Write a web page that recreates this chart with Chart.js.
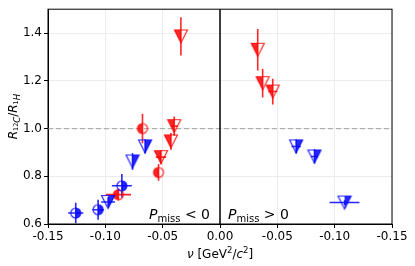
<!DOCTYPE html>
<html>

<head>
    <meta charset="utf-8">
    <title>R12C / R1H</title>
    <style>
        body { margin: 0; background: #fff; }
    </style>
</head>

<body>
    <canvas id="myChart" width="415" height="266"></canvas>

    <script src="https://cdn.jsdelivr.net/npm/chart.js@4.4.1/dist/chart.umd.min.js"></script>
    <script type="text/javascript">
        // valores (lado derecho: P_miss > 0, eje en espejo)
        var redCircX = [-0.0886, -0.0676, -0.0536];
        var redCircY = [0.723, 1.000, 0.816];
        var redCircXe = [0.011, 0, 0];
        var redCircYe = [0.025, 0.062, 0.035];

        var redTriX = [-0.0515, -0.0428, -0.0399, -0.0341, 0.0329, 0.0372, 0.0460];
        var redTriY = [0.880, 0.946, 1.010, 1.386, 1.330, 1.190, 1.155];
        var redTriXe = [0.0045, 0, 0.003, 0, 0, 0, 0.004];
        var redTriYe = [0.030, 0.035, 0.040, 0.080, 0.087, 0.060, 0.054];

        var blueCircX = [-0.1258, -0.1063, -0.0856];
        var blueCircY = [0.646, 0.660, 0.760];
        var blueCircXe = [0.0066, 0.005, 0.0087];
        var blueCircYe = [0.043, 0.042, 0.049];

        var blueTriX = [-0.0976, -0.0763, -0.0653, 0.0664, 0.0824, 0.1086];
        var blueTriY = [0.692, 0.862, 0.925, 0.925, 0.883, 0.690];
        var blueTriXe = [0.006, 0, 0, 0.004, 0.003, 0.013];
        var blueTriYe = [0.020, 0.035, 0.030, 0.030, 0.030, 0.010];

        var xTicks = [-0.15, -0.10, -0.05, 0, 0.05, 0.10, 0.15];
        var yTicks = [0.6, 0.8, 1.0, 1.2, 1.4];

        var RED = 'rgba(255,0,0,0.85)';
        var BLUE = 'rgba(0,0,255,0.85)';
        var FONT = '"DejaVu Sans", sans-serif';

        function makeMarker(shape, color, side) {
            var c = document.createElement('canvas');
            c.width = 16; c.height = 16;
            var g = c.getContext('2d');
            g.beginPath();
            if (shape == 'circle') {
                g.arc(8, 8, 5, 0, Math.PI * 2);
            } else {
                g.moveTo(1.5, 1.5); g.lineTo(14.5, 1.5); g.lineTo(8, 14.5); g.closePath();
            }
            g.save();
            g.clip();
            g.fillStyle = color;
            if (side == 'left') g.fillRect(0, 0, 8, 16);
            else g.fillRect(8, 0, 8, 16);
            g.restore();
            g.lineWidth = 1.2;
            g.strokeStyle = color;
            g.stroke();
            return c;
        }

        function pts(xs, ys, xe, ye) {
            var out = [];
            for (var i = 0; i < xs.length; i++) out.push({ x: xs[i], y: ys[i], xe: xe[i], ye: ye[i] });
            return out;
        }

        function ds(data, color, shape, side) {
            return {
                data: data,
                pointStyle: makeMarker(shape, color, side),
                pointRadius: 6,
                errColor: color,
                showLine: false
            };
        }

        // texto con partes (cursiva, subindices...)
        function richWidth(ctx, parts) {
            var w = 0;
            parts.forEach(function(p) {
                ctx.font = (p.it ? 'italic ' : '') + p.s + 'px ' + FONT;
                w += ctx.measureText(p.t).width;
            });
            return w;
        }
        function drawRich(ctx, parts, x, y) {
            parts.forEach(function(p) {
                ctx.font = (p.it ? 'italic ' : '') + p.s + 'px ' + FONT;
                ctx.fillText(p.t, x, y + (p.dy || 0));
                x += ctx.measureText(p.t).width;
            });
        }

        var yLabel = [
            { t: 'R', s: 12, it: true }, { t: '12', s: 6.5, dy: 1 }, { t: 'C', s: 8.5, it: true, dy: 3 },
            { t: '/', s: 12 },
            { t: 'R', s: 12, it: true }, { t: '1', s: 6.5, dy: 1 }, { t: 'H', s: 8.5, it: true, dy: 3 }
        ];
        var xLabel = [
            { t: 'ν', s: 12, it: true }, { t: ' [GeV', s: 12 }, { t: '2', s: 8.5, dy: -5 },
            { t: '/', s: 12 }, { t: 'c', s: 12, it: true }, { t: '2', s: 8.5, dy: -5 }, { t: ']', s: 12 }
        ];
        var pNeg = [{ t: 'P', s: 14, it: true }, { t: 'miss', s: 10, dy: 3 }, { t: ' < 0', s: 14 }];
        var pPos = [{ t: 'P', s: 14, it: true }, { t: 'miss', s: 10, dy: 3 }, { t: ' > 0', s: 14 }];

        var extras = {
            id: 'extras',
            beforeDatasetsDraw: function(chart) {
                var ctx = chart.ctx, a = chart.chartArea;
                var xs = chart.scales.x, ys = chart.scales.y;
                ctx.save();
                // linea discontinua en 1.0
                ctx.strokeStyle = '#b0b0b0';
                ctx.lineWidth = 1.2;
                ctx.setLineDash([5, 3]);
                ctx.beginPath();
                ctx.moveTo(a.left, ys.getPixelForValue(1.0));
                ctx.lineTo(a.right, ys.getPixelForValue(1.0));
                ctx.stroke();
                ctx.setLineDash([]);
                // linea vertical en 0
                ctx.strokeStyle = '#000';
                ctx.lineWidth = 1.5;
                ctx.beginPath();
                ctx.moveTo(xs.getPixelForValue(0), a.top);
                ctx.lineTo(xs.getPixelForValue(0), a.bottom);
                ctx.stroke();
                // barras de error
                ctx.lineWidth = 1.6;
                chart.data.datasets.forEach(function(d) {
                    ctx.strokeStyle = d.errColor;
                    d.data.forEach(function(p) {
                        var px = xs.getPixelForValue(p.x), py = ys.getPixelForValue(p.y);
                        ctx.beginPath();
                        if (p.ye > 0) {
                            ctx.moveTo(px, ys.getPixelForValue(p.y - p.ye));
                            ctx.lineTo(px, ys.getPixelForValue(p.y + p.ye));
                        }
                        if (p.xe > 0) {
                            ctx.moveTo(xs.getPixelForValue(p.x - p.xe), py);
                            ctx.lineTo(xs.getPixelForValue(p.x + p.xe), py);
                        }
                        ctx.stroke();
                    });
                });
                ctx.restore();
            },
            afterDraw: function(chart) {
                var ctx = chart.ctx, a = chart.chartArea;
                var x0 = chart.scales.x.getPixelForValue(0);
                ctx.save();
                ctx.strokeStyle = '#000';
                ctx.lineWidth = 1;
                ctx.strokeRect(a.left, a.top, a.right - a.left, a.bottom - a.top);
                ctx.fillStyle = '#000';
                ctx.textBaseline = 'alphabetic';
                ctx.textAlign = 'left';
                drawRich(ctx, pNeg, x0 - 10 - richWidth(ctx, pNeg), a.bottom - 5);
                drawRich(ctx, pPos, x0 + 8, a.bottom - 5);
                drawRich(ctx, xLabel, (a.left + a.right) / 2 - richWidth(ctx, xLabel) / 2, 258);
                ctx.translate(17, (a.top + a.bottom) / 2);
                ctx.rotate(-Math.PI / 2);
                drawRich(ctx, yLabel, -richWidth(ctx, yLabel) / 2, 0);
                ctx.restore();
            }
        };

        var ctx = document.getElementById('myChart').getContext('2d');
        var chart = new Chart(ctx, {
            type: 'scatter',
            data: {
                datasets: [
                    ds(pts(blueCircX, blueCircY, blueCircXe, blueCircYe), BLUE, 'circle', 'right'),
                    ds(pts(blueTriX, blueTriY, blueTriXe, blueTriYe), BLUE, 'tri', 'right'),
                    ds(pts(redCircX, redCircY, redCircXe, redCircYe), RED, 'circle', 'left'),
                    ds(pts(redTriX, redTriY, redTriXe, redTriYe), RED, 'tri', 'left')
                ]
            },
            options: {
                responsive: false,
                animation: false,
                devicePixelRatio: 1,
                layout: { padding: { top: 9, right: 23, left: 0, bottom: 0 } },
                plugins: { legend: { display: false }, tooltip: { enabled: false } },
                scales: {
                    x: {
                        type: 'linear',
                        min: -0.15,
                        max: 0.15,
                        afterBuildTicks: function(s) { s.ticks = xTicks.map(function(v) { return { value: v }; }); },
                        afterFit: function(s) { s.height = 42; },
                        grid: { color: '#ececec', tickColor: '#000', tickLength: 4, lineWidth: 1 },
                        border: { color: '#000', width: 1 },
                        ticks: {
                            color: '#000',
                            padding: 2,
                            maxRotation: 0,
                            font: { family: 'DejaVu Sans', size: 12 },
                            callback: function(v) { return v == 0 ? '0.00' : '-' + Math.abs(v).toFixed(2); }
                        }
                    },
                    y: {
                        min: 0.6,
                        max: 1.5,
                        afterBuildTicks: function(s) { s.ticks = yTicks.map(function(v) { return { value: v }; }); },
                        afterFit: function(s) { s.width = 48; },
                        grid: { color: '#ececec', tickColor: '#000', tickLength: 4, lineWidth: 1 },
                        border: { color: '#000', width: 1 },
                        ticks: {
                            color: '#000',
                            padding: 2,
                            font: { family: 'DejaVu Sans', size: 12 },
                            callback: function(v) { return v.toFixed(1); }
                        }
                    }
                }
            },
            plugins: [extras]
        });
    </script>
</body>

</html>
